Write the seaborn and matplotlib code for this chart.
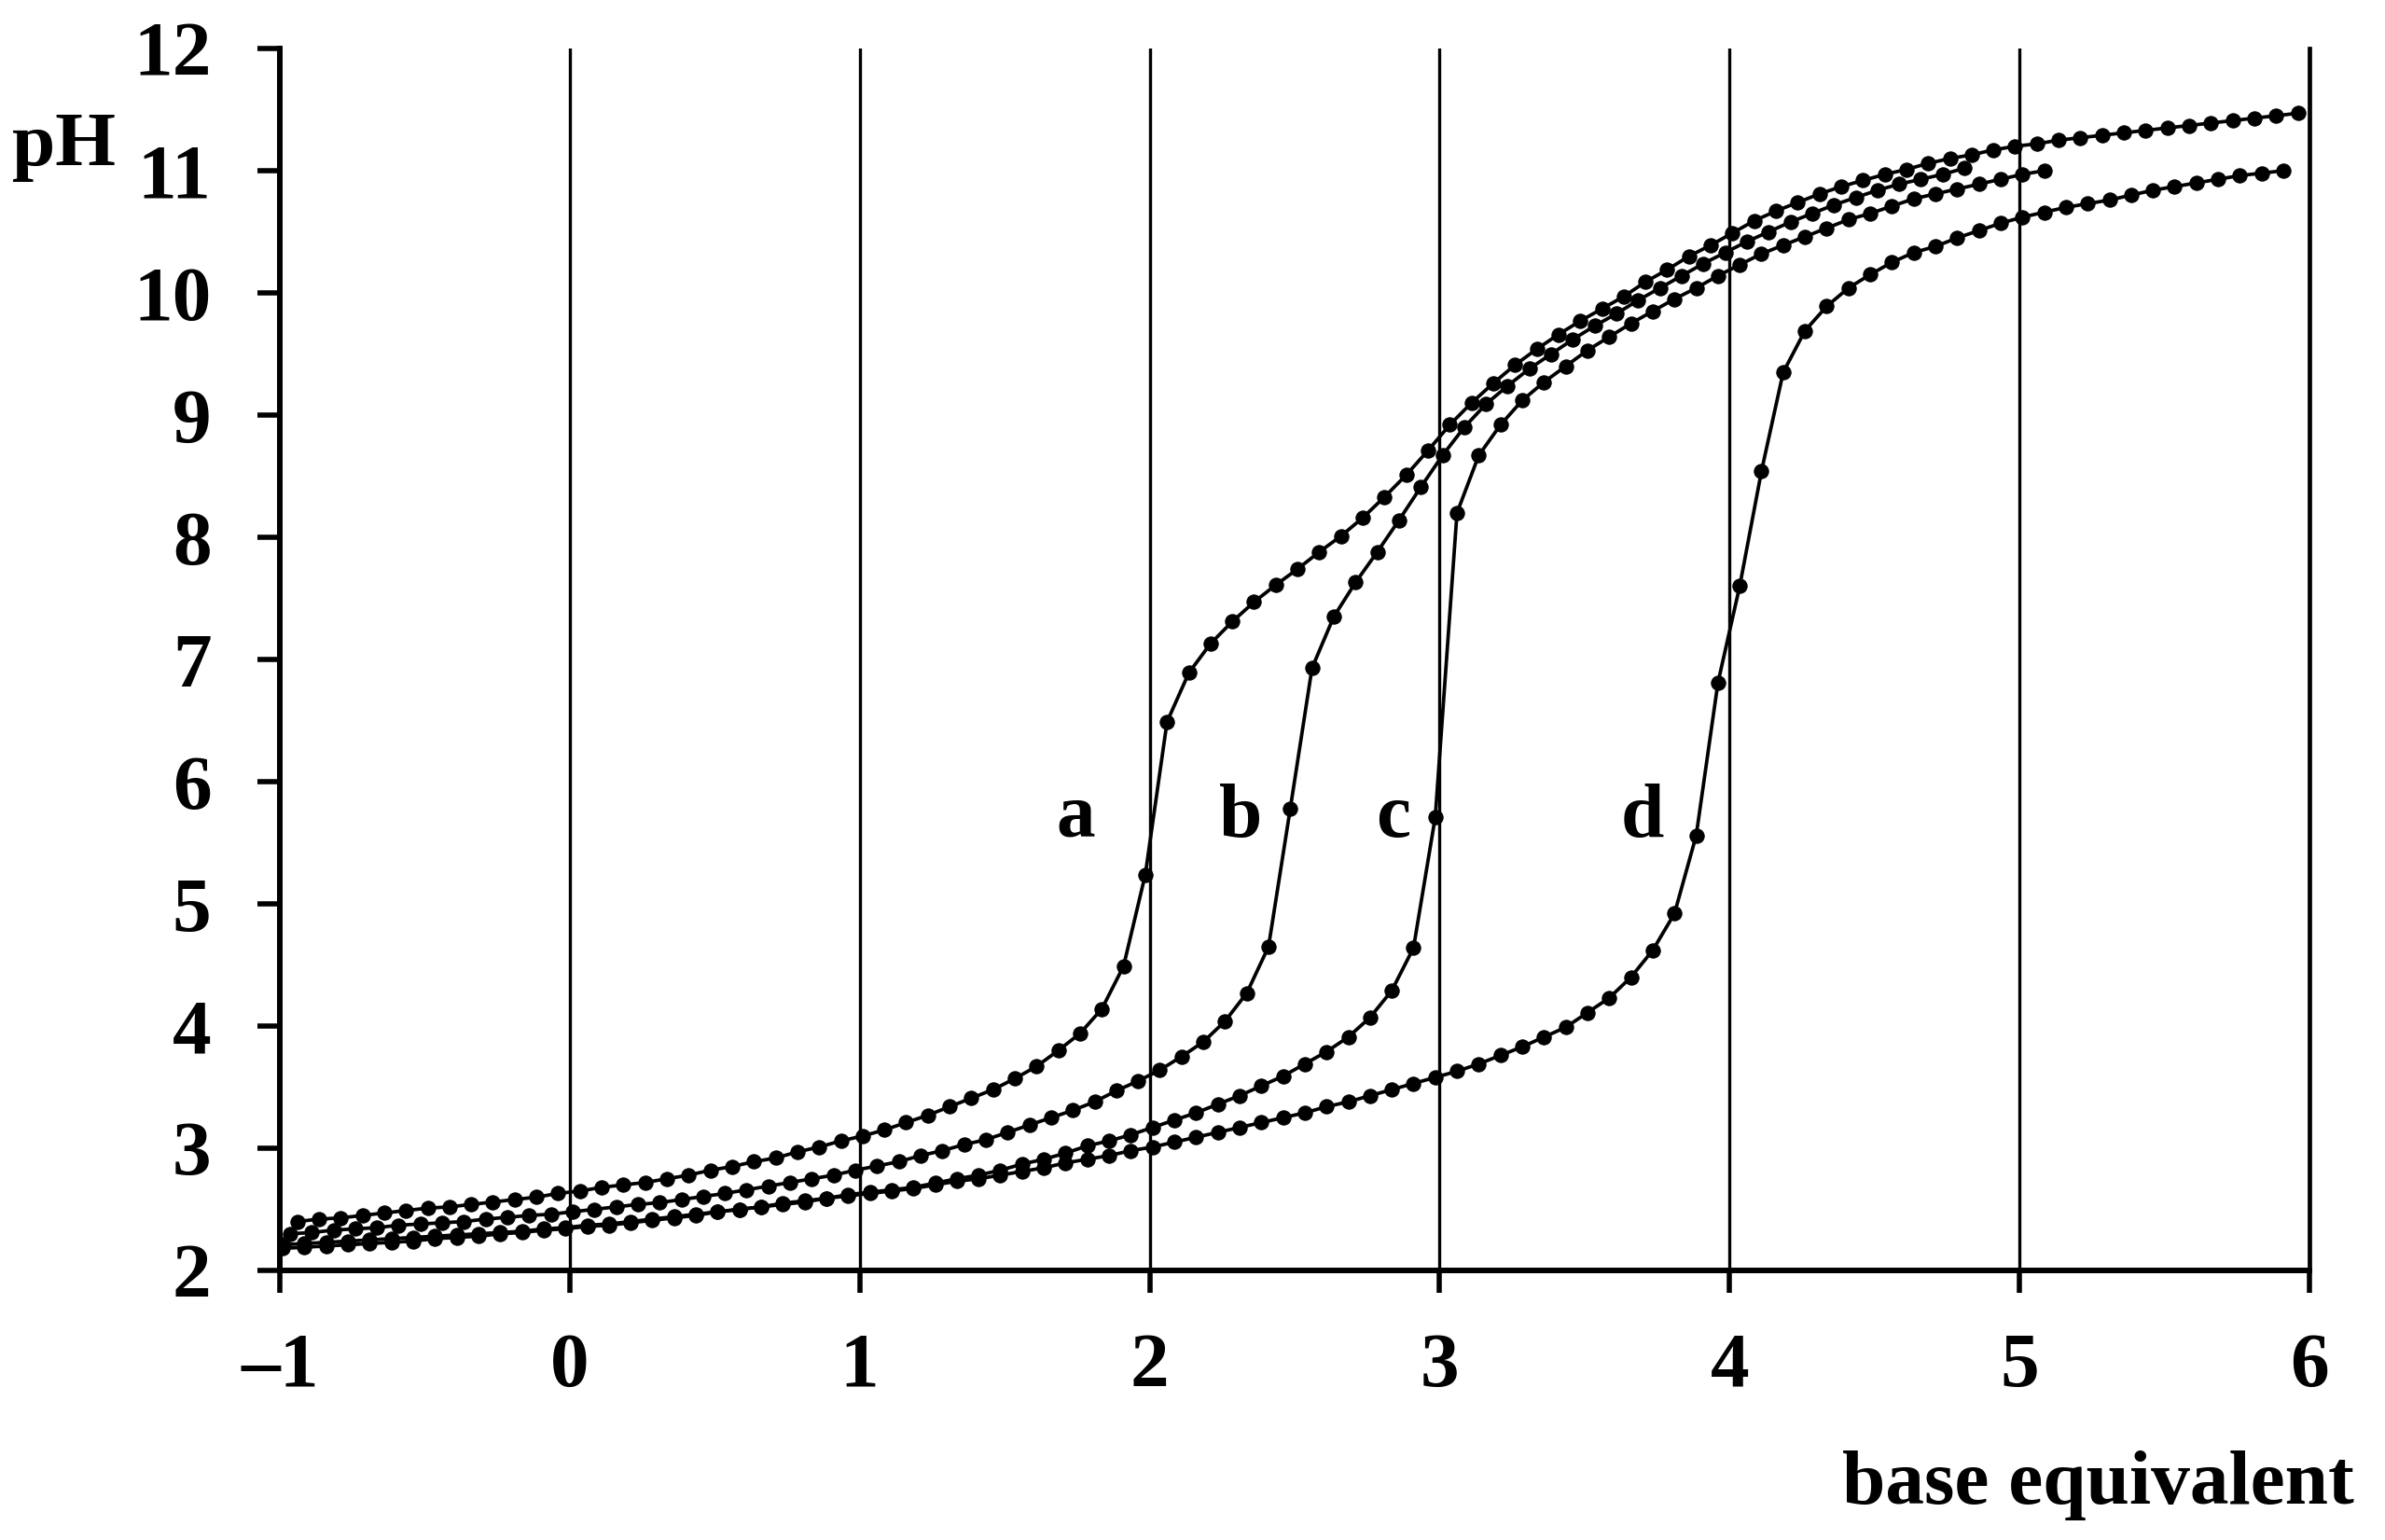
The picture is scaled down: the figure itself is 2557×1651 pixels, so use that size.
import matplotlib
matplotlib.use("Agg")
import matplotlib.pyplot as plt
import seaborn as sns
import pandas as pd

# ---------------- data ----------------
equiv_a = [-0.94, -0.865, -0.79, -0.715, -0.64, -0.565, -0.49, -0.415, -0.34, -0.265,
           -0.19, -0.115, -0.04, 0.035, 0.11, 0.185, 0.26, 0.335, 0.41, 0.485,
           0.56, 0.635, 0.71, 0.785, 0.86, 0.935, 1.01, 1.085, 1.16, 1.235,
           1.31, 1.385, 1.46, 1.535, 1.61, 1.685, 1.76, 1.835, 1.91, 1.985,
           2.06, 2.135, 2.21, 2.285, 2.36, 2.435, 2.51, 2.585, 2.66, 2.735,
           2.81, 2.885, 2.96, 3.035, 3.11, 3.185, 3.26, 3.335, 3.41, 3.485,
           3.56, 3.635, 3.71, 3.785, 3.86, 3.935, 4.01, 4.085, 4.16, 4.235,
           4.31, 4.385, 4.46, 4.535, 4.61, 4.685, 4.76, 4.835, 4.91, 4.985,
           5.06, 5.135, 5.21, 5.285, 5.36, 5.435, 5.51, 5.585, 5.66, 5.735,
           5.81, 5.885, 5.96]
ph_a = [2.40, 2.42, 2.43, 2.45, 2.47, 2.49, 2.51, 2.52, 2.54, 2.56,
        2.58, 2.60, 2.63, 2.65, 2.68, 2.70, 2.72, 2.75, 2.78, 2.82,
        2.85, 2.89, 2.92, 2.97, 3.01, 3.06, 3.10, 3.15, 3.21, 3.27,
        3.34, 3.41, 3.48, 3.57, 3.67, 3.80, 3.94, 4.14, 4.49, 5.24,
        6.49, 6.89, 7.13, 7.31, 7.47, 7.61, 7.74, 7.88, 8.01, 8.16,
        8.33, 8.51, 8.71, 8.92, 9.10, 9.26, 9.41, 9.54, 9.66, 9.77,
        9.87, 9.97, 10.09, 10.19, 10.30, 10.39, 10.49, 10.59, 10.67, 10.74,
        10.81, 10.87, 10.92, 10.97, 11.01, 11.06, 11.10, 11.13, 11.17, 11.20,
        11.22, 11.25, 11.27, 11.29, 11.31, 11.33, 11.35, 11.37, 11.39, 11.41,
        11.43, 11.45, 11.47]

equiv_b = [-0.965, -0.89, -0.815, -0.74, -0.665, -0.59, -0.515, -0.44, -0.365, -0.29,
           -0.215, -0.14, -0.065, 0.01, 0.085, 0.16, 0.235, 0.31, 0.385, 0.46,
           0.535, 0.61, 0.685, 0.76, 0.835, 0.91, 0.985, 1.06, 1.135, 1.21,
           1.285, 1.36, 1.435, 1.51, 1.585, 1.66, 1.735, 1.81, 1.885, 1.96,
           2.035, 2.11, 2.185, 2.26, 2.335, 2.41, 2.485, 2.56, 2.635, 2.71,
           2.785, 2.86, 2.935, 3.01, 3.085, 3.16, 3.235, 3.31, 3.385, 3.46,
           3.535, 3.61, 3.685, 3.76, 3.835, 3.91, 3.985, 4.06, 4.135, 4.21,
           4.285, 4.36, 4.435, 4.51, 4.585, 4.66, 4.735, 4.81]
ph_b = [2.30, 2.31, 2.33, 2.34, 2.35, 2.37, 2.38, 2.39, 2.40, 2.42,
        2.435, 2.45, 2.46, 2.48, 2.50, 2.52, 2.54, 2.555, 2.58, 2.605,
        2.63, 2.66, 2.69, 2.72, 2.75, 2.78, 2.82, 2.855, 2.89, 2.94,
        2.98, 3.03, 3.07, 3.13, 3.19, 3.25, 3.31, 3.38, 3.47, 3.55,
        3.64, 3.75, 3.87, 4.04, 4.27, 4.65, 5.78, 6.93, 7.35, 7.63,
        7.88, 8.14, 8.41, 8.67, 8.90, 9.09, 9.24, 9.38, 9.50, 9.62,
        9.73, 9.83, 9.94, 10.04, 10.14, 10.24, 10.33, 10.42, 10.50, 10.58,
        10.65, 10.72, 10.78, 10.84, 10.89, 10.93, 10.97, 11.02]

equiv_cd = [-0.99, -0.915, -0.84, -0.765, -0.69, -0.615, -0.54, -0.465, -0.39, -0.315,
            -0.24, -0.165, -0.09, -0.015, 0.06, 0.135, 0.21, 0.285, 0.36, 0.435,
            0.51, 0.585, 0.66, 0.735, 0.81, 0.885, 0.96, 1.035, 1.11, 1.185,
            1.26, 1.335, 1.41, 1.485, 1.56, 1.635, 1.71, 1.785, 1.86, 1.935,
            2.01, 2.085, 2.16, 2.235, 2.31, 2.385, 2.46, 2.535, 2.61, 2.685,
            2.76, 2.835, 2.91, 2.985, 3.06, 3.135, 3.21, 3.285, 3.36, 3.435,
            3.51, 3.585, 3.66, 3.735, 3.81, 3.885, 3.96, 4.035, 4.11, 4.185,
            4.26, 4.335, 4.41, 4.485, 4.56, 4.635, 4.71, 4.785, 4.86, 4.935,
            5.01, 5.085, 5.16, 5.235, 5.31, 5.385, 5.46, 5.535, 5.61, 5.685,
            5.76, 5.835, 5.91]
ph_c = [2.21, 2.22, 2.23, 2.24, 2.25, 2.26, 2.27, 2.28, 2.29, 2.30,
        2.31, 2.32, 2.34, 2.35, 2.37, 2.38, 2.40, 2.42, 2.44, 2.46,
        2.48, 2.50, 2.52, 2.55, 2.57, 2.59, 2.62, 2.64, 2.66, 2.68,
        2.715, 2.75, 2.78, 2.82, 2.87, 2.91, 2.96, 3.02, 3.06, 3.11,
        3.17, 3.23, 3.29, 3.36, 3.43, 3.51, 3.59, 3.69, 3.79, 3.91,
        4.07, 4.29, 4.64, 5.71, 8.20, 8.67, 8.92, 9.12, 9.27, 9.40,
        9.53, 9.64, 9.75, 9.85, 9.95, 10.04, 10.14, 10.23, 10.32, 10.39,
        10.46, 10.53, 10.60, 10.65, 10.71, 10.77, 10.81, 10.85, 10.89, 10.93,
        10.97, 11.00]
ph_d = [2.18, 2.19, 2.20, 2.21, 2.22, 2.23, 2.24, 2.26, 2.27, 2.28,
        2.30, 2.31, 2.33, 2.34, 2.36, 2.37, 2.39, 2.41, 2.43, 2.45,
        2.48, 2.50, 2.52, 2.54, 2.56, 2.59, 2.61, 2.63, 2.65, 2.67,
        2.70, 2.73, 2.75, 2.78, 2.81, 2.84, 2.88, 2.91, 2.94, 2.98,
        3.01, 3.05, 3.09, 3.13, 3.17, 3.21, 3.25, 3.29, 3.34, 3.38,
        3.43, 3.48, 3.53, 3.58, 3.63, 3.69, 3.76, 3.83, 3.91, 3.99,
        4.11, 4.23, 4.40, 4.62, 4.92, 5.56, 6.81, 7.60, 8.54, 9.35,
        9.69, 9.89, 10.04, 10.15, 10.25, 10.33, 10.38, 10.45, 10.51, 10.57,
        10.62, 10.66, 10.70, 10.73, 10.76, 10.80, 10.84, 10.87, 10.90, 10.93,
        10.96, 10.98, 11.00]

curve_names = ["a", "b", "c", "d"]
label_x = [1.745, 2.315, 2.84, 3.70]
label_ph = [5.55, 5.55, 5.55, 5.55]
x_ticks = [-1, 0, 1, 2, 3, 4, 5, 6]
x_tick_labels = ["\u20131", "0", "1", "2", "3", "4", "5", "6"]
y_ticks = [2, 3, 4, 5, 6, 7, 8, 9, 10, 11, 12]

# ---------------- build long table ----------------
frames = []
for name, xs, ys in [("a", equiv_a, ph_a), ("b", equiv_b, ph_b),
                     ("c", equiv_cd[:len(ph_c)], ph_c), ("d", equiv_cd[:len(ph_d)], ph_d)]:
    frames.append(pd.DataFrame({"curve": name, "equiv": xs, "pH": ys}))
df = pd.concat(frames, ignore_index=True)

# ---------------- style ----------------
sns.set_theme(style="white")
plt.rcParams["font.family"] = ["Liberation Serif", "DejaVu Serif"]
plt.rcParams["font.weight"] = "bold"
plt.rcParams["text.color"] = "black"
plt.rcParams["axes.labelcolor"] = "black"

W, H = 2557, 1651
fig = plt.figure(figsize=(W / 100, H / 100), dpi=100)
left, right, top, bottom = 300, 2476, 52, 1362
ax = fig.add_axes([left / W, 1 - bottom / H, (right - left) / W, (bottom - top) / H])

for name in curve_names:
    sub = df[df["curve"] == name]
    sns.lineplot(data=sub, x="equiv", y="pH", ax=ax, color="black", linewidth=2.7,
                 marker="o", markersize=11, markeredgewidth=0.8, markeredgecolor="black",
                 sort=False, estimator=None, zorder=3, legend=False)

ax.set_xlim(-1, 6)
ax.set_ylim(2, 12)
ax.set_xticks(x_ticks)
ax.set_xticklabels(x_tick_labels)
ax.set_yticks(y_ticks)

ax.grid(False)
for xv in x_ticks[1:]:
    ax.axvline(xv, color="black", lw=2.4, zorder=1)

ax.spines["top"].set_visible(False)
ax.spines["left"].set_linewidth(4.3)
ax.spines["bottom"].set_linewidth(4.3)
ax.spines["right"].set_linewidth(3.4)
for s in ["left", "bottom", "right"]:
    ax.spines[s].set_color("black")
    ax.spines[s].set_zorder(4)

ax.tick_params(axis="both", which="major", direction="out", length=17, width=4,
               color="black", labelsize=60, labelcolor="black")
ax.tick_params(axis="x", pad=31, bottom=True, top=False)
ax.tick_params(axis="y", pad=36, left=True, right=False)
for lab in ax.get_xticklabels() + ax.get_yticklabels():
    lab.set_fontweight("bold")

ax.set_xlabel("base equivalent", fontsize=60, fontweight="bold", ha="right", va="baseline",
              color="black")
ax.xaxis.set_label_coords((2524 - left) / (right - left), -(1612 - bottom) / (bottom - top))
ax.set_ylabel("pH", fontsize=60, fontweight="bold", rotation=0, ha="left", va="baseline",
              color="black")
ax.yaxis.set_label_coords((13 - left) / (right - left), (bottom - 177) / (bottom - top))

for name, lx, ly in zip(curve_names, label_x, label_ph):
    ax.text(lx, ly, name, fontsize=60, fontweight="bold", ha="center", va="baseline",
            color="black", zorder=5)

ax.set_facecolor("white")
fig.patch.set_facecolor("white")
fig.savefig("out.png", dpi=100, facecolor="white")
